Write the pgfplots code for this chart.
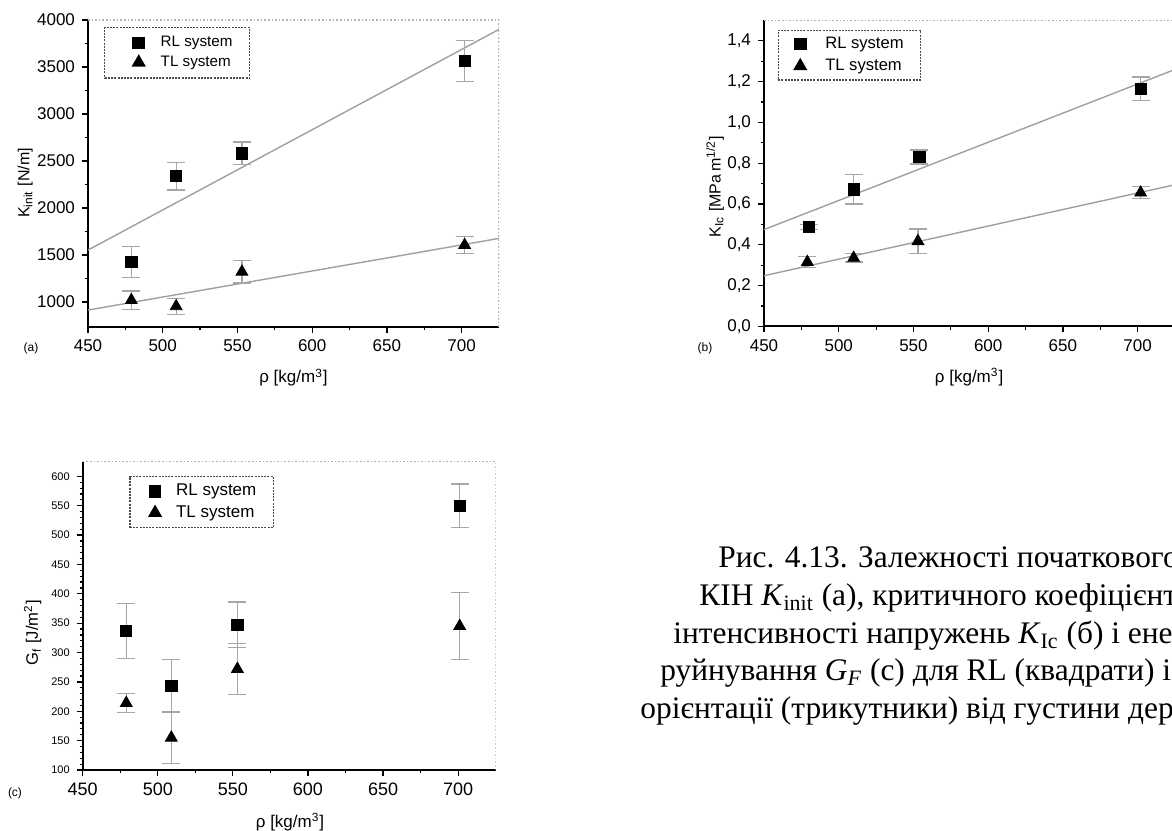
\documentclass[border=0pt]{standalone}
\usepackage{fontspec}
\setmainfont{Liberation Serif}
\newfontfamily\axfont{Liberation Sans}
\usepackage{pgfplots}
\pgfplotsset{compat=1.18}
\usepackage{pgfplotstable}

\pgfplotstableread{
x y e
479 1429 166
509 2340 148
553 2582 120
702 3567 217
}\aRL
\pgfplotstableread{
x y e
479 1020 97
509 955 85
553 1322 120
702 1606 88
}\aTL
\pgfplotstableread{
x y e
480 0.489 0.012
510 0.672 0.072
554 0.831 0.034
702 1.165 0.058
}\bRL
\pgfplotstableread{
x y e
479 0.316 0.026
510 0.336 0.020
553 0.418 0.060
702 0.656 0.030
}\bTL
\pgfplotstableread{
x y e
479 337 47
509 243 45
553 347 39
701 550 37
}\cRL
\pgfplotstableread{
x y e
479 214 16
509 155 44
553 272 44
701 345 57
}\cTL

\pgfplotsset{
  myax/.style={
    scale only axis,
    xmin=450, xmax=725,
    axis x line*=bottom, axis y line*=left,
    axis line style={-, black, line width=1pt},
    tick align=outside,
    major tick length=3pt, minor tick length=1.6pt,
    every tick/.style={black, line width=0.6pt},
    xtick={450,500,...,700}, minor x tick num=1,
    font=\axfont,
    /pgf/number format/assume math mode=true,
    /pgf/number format/set thousands separator={},
    clip=true,
    legend cell align=left,
    legend style={draw=black!70, dash pattern=on 1pt off 0.6pt, line width=0.7pt,
      inner xsep=7pt, nodes={inner sep=1.5pt, solid}},
    execute at end axis={
      \draw[gray!60, densely dotted, line width=0.8pt]
        (rel axis cs:0,1) -- (rel axis cs:1,1) -- (rel axis cs:1,0);
    },
  },
  legA/.style={legend image code/.code={\path[draw=none, fill=none] (0pt,-3pt) rectangle (19.5pt,3pt);
      \draw[##1] plot coordinates {(10pt,0pt)};}},
  legB/.style={legend image code/.code={\path[draw=none, fill=none] (0pt,-3pt) rectangle (15pt,3pt);
      \draw[##1] plot coordinates {(4pt,0pt)};}},
  legC/.style={legend image code/.code={\path[draw=none, fill=none] (0pt,-3pt) rectangle (14.5pt,3pt);
      \draw[##1] plot coordinates {(5.5pt,0pt)};}},
  ebar/.style={error bars/y dir=both, error bars/y explicit,
    error bars/error bar style={gray!70, line width=0.6pt, solid},
    error bars/error mark options={rotate=90, mark size=4.5pt, gray!70, line width=0.6pt, solid}},
  rl/.style={only marks, mark=square*, mark size=2.8pt, black, ebar},
  tl/.style={only marks, mark=triangle*, mark size=3.4pt, black, ebar},
  fit/.style={gray!75, line width=0.7pt, forget plot, no marks},
}

\begin{document}
\begin{tikzpicture}
\path[use as bounding box] (0,0) rectangle (586pt,415pt);
\clip (0,0) rectangle (586pt,415pt);

% ---------- (a)
\begin{axis}[myax, legA,
  at={(44pt,251.5pt)}, anchor=south west,
  width=205.5pt, height=153.5pt,
  ymin=735, ymax=4000,
  ytick={1000,1500,...,4000}, minor y tick num=1,
  tick label style={font=\axfont\fontsize{8.5}{10}\selectfont},
  xlabel={ρ [kg/m\textsuperscript{3}]},
  ylabel={K\textsubscript{init} [N/m]},
  xlabel style={font=\axfont\fontsize{8.5}{10}\selectfont, at={(axis description cs:0.5,-0.165)}, anchor=center},
  ylabel style={font=\axfont\fontsize{8}{9}\selectfont, at={(axis description cs:-0.153,0.469)}, anchor=center},
  legend style={at={(axis description cs:0.039,0.978)}, anchor=north west,
    font=\axfont\fontsize{7.6}{9}\selectfont, inner ysep=2.9pt, row sep=0pt},
]
\addplot[fit] coordinates {(450,1553) (725,3900)};
\addplot[fit] coordinates {(450,915) (725,1677)};
\addplot[rl] table[x=x,y=y,y error=e] {\aRL};
\addplot[tl] table[x=x,y=y,y error=e] {\aTL};
\legend{RL system, TL system}
\end{axis}

% ---------- (b)
\begin{axis}[myax, legB,
  at={(382pt,251.75pt)}, anchor=south west,
  width=205.5pt, height=153pt,
  ymin=0, ymax=1.5,
  ytick={0,0.2,0.4,0.6,0.8,1.0,1.2,1.4}, minor y tick num=1,
  yticklabel style={/pgf/number format/.cd, use comma, fixed, fixed zerofill, precision=1},
  tick label style={font=\axfont\fontsize{8.5}{10}\selectfont},
  xlabel={ρ [kg/m\textsuperscript{3}]},
  ylabel={K\textsubscript{Ic} [MPa\,m\textsuperscript{1/2}]},
  xlabel style={font=\axfont\fontsize{8.5}{10}\selectfont, at={(axis description cs:0.499,-0.165)}, anchor=center},
  ylabel style={font=\axfont\fontsize{8}{9}\selectfont, at={(axis description cs:-0.119,0.456)}, anchor=center},
  legend style={at={(axis description cs:0.033,0.97)}, anchor=north west,
    font=\axfont\fontsize{8.3}{9.5}\selectfont, inner ysep=1.8pt, row sep=0.7pt},
]
\addplot[fit] coordinates {(450,0.475) (725,1.26)};
\addplot[fit] coordinates {(450,0.249) (725,0.695)};
\addplot[rl] table[x=x,y=y,y error=e] {\bRL};
\addplot[tl] table[x=x,y=y,y error=e] {\bTL};
\legend{RL system, TL system}
\end{axis}

% ---------- (c)
\begin{axis}[myax, legC,
  at={(41.35pt,30pt)}, anchor=south west,
  width=206.5pt, height=154.15pt,
  ymin=100, ymax=625,
  ytick={100,150,...,600}, minor y tick num=4,
  xticklabel style={font=\axfont\fontsize{9}{10}\selectfont},
  yticklabel style={font=\axfont\fontsize{5.5}{6}\selectfont},
  xlabel={ρ [kg/m\textsuperscript{3}]},
  ylabel={G\textsubscript{f} [J/m\textsuperscript{2}]},
  xlabel style={font=\axfont\fontsize{8.5}{10}\selectfont, at={(axis description cs:0.502,-0.169)}, anchor=center},
  ylabel style={font=\axfont\fontsize{8.3}{9}\selectfont, at={(axis description cs:-0.121,0.445)}, anchor=center},
  legend style={at={(axis description cs:0.113,0.954)}, anchor=north west,
    font=\axfont\fontsize{8.5}{10}\selectfont, inner ysep=2.3pt, row sep=0.3pt},
]
\addplot[rl] table[x=x,y=y,y error=e] {\cRL};
\addplot[tl] table[x=x,y=y,y error=e] {\cTL};
\legend{RL system, TL system}
\end{axis}

% panel tags
\node[font=\axfont\fontsize{6}{7}\selectfont] at (15.5pt,241pt) {(a)};
\node[font=\axfont\fontsize{6}{7}\selectfont] at (352.5pt,241pt) {(b)};
\node[font=\axfont\fontsize{6}{7}\selectfont] at (7.5pt,18.5pt) {(c)};

% caption
\begin{scope}[every node/.style={anchor=base west, inner sep=0pt, font=\fontsize{15.7}{19}\selectfont}]
\node at (359pt,131pt) {Рис. 4.13. Залежності початкового};
\node at (349.5pt,112pt) {КІН \textit{K}\textsubscript{init} (а), критичного коефіцієнта};
\node at (336.5pt,93pt) {інтенсивності напружень \textit{K}\textsubscript{Ic} (б) і енергії};
\node at (330pt,74.5pt) {руйнування \textit{G}\textsubscript{\textit{F}} (с) для RL (квадрати) і};
\node at (320pt,56pt) {орієнтації (трикутники) від густини деревини};
\end{scope}
\end{tikzpicture}
\end{document}
